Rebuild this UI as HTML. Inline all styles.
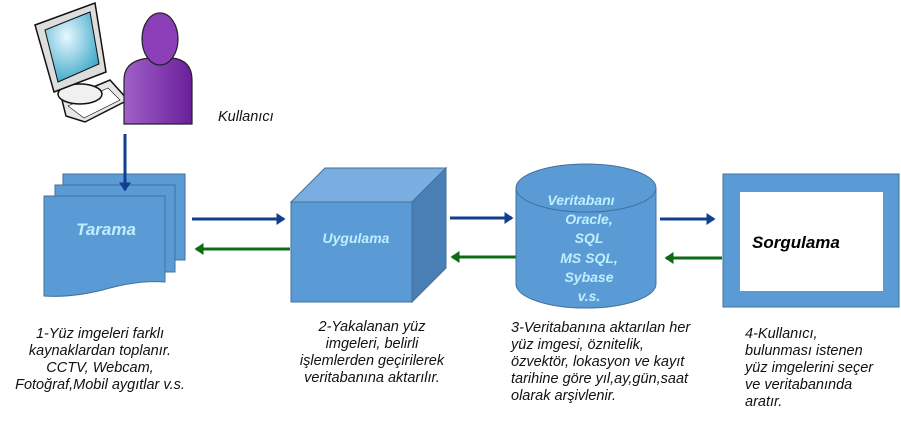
<!DOCTYPE html>
<html><head><meta charset="utf-8"><style>
html,body{margin:0;padding:0;background:#fff;}
svg{display:block}
.t{font-family:"Liberation Sans",sans-serif;font-style:italic;font-size:14.5px;fill:#111;}
.w{font-family:"Liberation Sans",sans-serif;font-style:italic;font-weight:bold;fill:#bfefff;}
</style></head><body>
<svg width="901" height="433" viewBox="0 0 901 433" xmlns="http://www.w3.org/2000/svg">
<defs>
<marker id="ab" markerWidth="4" markerHeight="4" refX="2.5" refY="2" orient="auto"><path d="M0,0 L3,2 L0,4 z" fill="#103f8f"/></marker>
<marker id="ag" markerWidth="4" markerHeight="4" refX="2.5" refY="2" orient="auto"><path d="M0,0 L3,2 L0,4 z" fill="#0f6a14"/></marker>
<radialGradient id="scr" cx="0.4" cy="0.35" r="0.7"><stop offset="0" stop-color="#e8f8ff"/><stop offset="1" stop-color="#3aa6c8"/></radialGradient>
<linearGradient id="pur" x1="0" x2="1"><stop offset="0" stop-color="#a060c8"/><stop offset="1" stop-color="#6a1f9a"/></linearGradient>
</defs>
<g stroke="#111" stroke-width="1.5">
<path d="M62,100 L110,80 L128,100 L85,122 L66,116 Z" fill="#e6e6e6"/>
<path d="M68,106 L108,88 L120,100 L84,118Z" fill="#fff" stroke-width="0.6"/>
<ellipse cx="80" cy="94" rx="22" ry="10" fill="#f0f0f0"/>
<path d="M35,25 L95,3 L106,72 L54,92 Z" fill="#ddd"/>
<path d="M45,30 L90,12 L99,64 L58,82 Z" fill="url(#scr)" stroke-width="1"/>
</g>
<g stroke="#222" stroke-width="1.2">
<path d="M124,124 L124,80 Q124,60 150,58 L172,58 Q192,60 192,80 L192,124 Z" fill="url(#pur)"/>
<ellipse cx="160" cy="39" rx="18" ry="26" fill="#8a3fb8"/>
</g>
<text class="t" x="218" y="121" font-size="14">Kullanıcı</text>
<line x1="125" y1="134" x2="125" y2="188" stroke="#103f8f" stroke-width="3" marker-end="url(#ab)"/>
<g fill="#5b9bd5" stroke="#41719c" stroke-width="1">
<rect x="63" y="174" width="122" height="86"/>
<rect x="55" y="185" width="120" height="87"/>
<path d="M44,196 L165,196 L165,282 Q140,280 110,288 Q75,298 44,296 Z"/>
</g>
<line x1="125" y1="172" x2="125" y2="190" stroke="#103f8f" stroke-width="3" marker-end="url(#ab)"/>
<text class="w" x="106" y="235" font-size="17" text-anchor="middle">Tarama</text>
<line x1="192" y1="219" x2="284" y2="219" stroke="#103f8f" stroke-width="3" marker-end="url(#ab)"/>
<line x1="290" y1="249" x2="196" y2="249" stroke="#0f6a14" stroke-width="3" marker-end="url(#ag)"/>
<g stroke="#41719c" stroke-width="1">
<path d="M291,202 L325,168 L446,168 L412,202 Z" fill="#7aaee0"/>
<path d="M412,202 L446,168 L446,268 L412,302 Z" fill="#4a7fb5"/>
<rect x="291" y="202" width="121" height="100" fill="#5b9bd5"/>
</g>
<text class="w" x="356" y="243" font-size="14" text-anchor="middle">Uygulama</text>
<line x1="450" y1="218" x2="512" y2="218" stroke="#103f8f" stroke-width="3" marker-end="url(#ab)"/>
<line x1="516" y1="257" x2="452" y2="257" stroke="#0f6a14" stroke-width="3" marker-end="url(#ag)"/>
<g stroke="#41719c" stroke-width="1" fill="#5b9bd5">
<path d="M516,188 L516,284 A70,24 0 0 0 656,284 L656,188"/>
<ellipse cx="586" cy="188" rx="70" ry="24"/>
</g>
<g class="w" font-size="14" text-anchor="middle">
<text x="581" y="205">Veritabanı</text>
<text x="589" y="224">Oracle,</text>
<text x="589" y="243">SQL</text>
<text x="589" y="263">MS SQL,</text>
<text x="589" y="282">Sybase</text>
<text x="589" y="301">v.s.</text>
</g>
<line x1="660" y1="219" x2="714" y2="219" stroke="#103f8f" stroke-width="3" marker-end="url(#ab)"/>
<line x1="722" y1="258" x2="666" y2="258" stroke="#0f6a14" stroke-width="3" marker-end="url(#ag)"/>
<rect x="723" y="174" width="176" height="133" fill="#5b9bd5" stroke="#41719c"/>
<rect x="740" y="192" width="143" height="99" fill="#fff"/>
<text x="752" y="248" font-family="Liberation Sans,sans-serif" font-style="italic" font-weight="bold" font-size="17" fill="#000">Sorgulama</text>
<g class="t" text-anchor="middle">
<text x="100" y="338">1-Yüz imgeleri  farklı</text>
<text x="100" y="355">kaynaklardan toplanır.</text>
<text x="100" y="372">CCTV, Webcam,</text>
<text x="100" y="389">Fotoğraf,Mobil aygıtlar v.s.</text>
<text x="372" y="331">2-Yakalanan yüz</text>
<text x="372" y="348">imgeleri, belirli</text>
<text x="372" y="365">işlemlerden geçirilerek</text>
<text x="372" y="382">veritabanına aktarılır.</text>
</g>
<g class="t">
<text x="511" y="332">3-Veritabanına aktarılan  her</text>
<text x="511" y="349">yüz imgesi, öznitelik,</text>
<text x="511" y="366">özvektör, lokasyon ve kayıt</text>
<text x="511" y="383">tarihine göre yıl,ay,gün,saat</text>
<text x="511" y="400">olarak arşivlenir.</text>
<text x="745" y="338">4-Kullanıcı,</text>
<text x="745" y="355">bulunması istenen</text>
<text x="745" y="372">yüz imgelerini  seçer</text>
<text x="745" y="389">ve veritabanında</text>
<text x="745" y="406">aratır.</text>
</g>
</svg>
</body></html>
